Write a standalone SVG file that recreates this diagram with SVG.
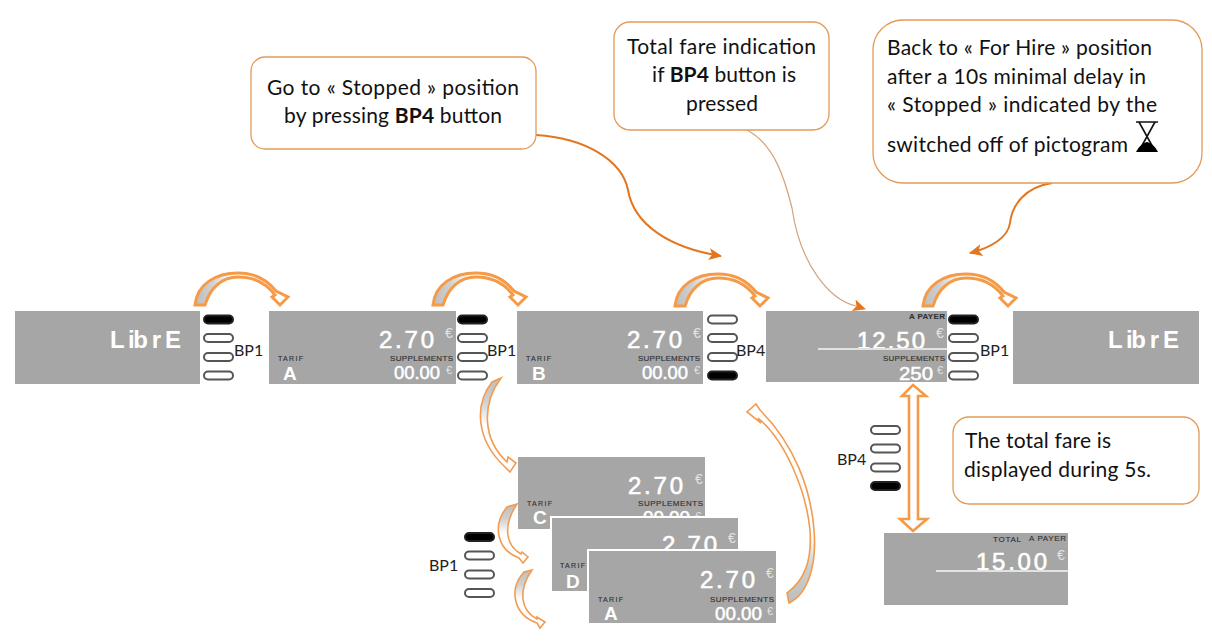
<svg xmlns="http://www.w3.org/2000/svg" xmlns:xlink="http://www.w3.org/1999/xlink" width="1212" height="644" viewBox="0 0 1212 644">
<style>
text{font-family:"Liberation Sans",Arial,sans-serif}
.disp{fill:#a6a6a6}
.discard{fill:#a6a6a6;stroke:#fff;stroke-width:2}
.big{fill:#fff;stroke:#fff;stroke-width:.6;font-size:24px}
.lib{fill:#fff;font-size:24px;font-weight:bold}
.eur{fill:#e4e4e4;font-size:14px}
.eurs{fill:#e4e4e4;font-size:11px}
.sup{fill:#333;stroke:#333;stroke-width:.15;font-size:8px}
.num{fill:#fff;stroke:#fff;stroke-width:.5;font-size:18px}
.let{fill:#fff;font-size:19px;font-weight:bold}
.rule{stroke:#e2e2e2;stroke-width:2;fill:none}
.lab{font-family:Lato,"Liberation Sans",sans-serif;font-size:16px;fill:#222}
.call{fill:#fff;stroke:#e39a58;stroke-width:1.3}
.ct{font-family:Lato,"Liberation Sans",sans-serif;font-size:21px;fill:#111}
.off{fill:#fff;stroke:#555;stroke-width:2}
.on{fill:#000;stroke:#222;stroke-width:2}
.blk{stroke:#f59a47;stroke-width:3;stroke-linejoin:miter}
.blkt{stroke:#f29c52;stroke-width:1.6;stroke-linejoin:miter}
.c1{fill:none;stroke:#e3761f;stroke-width:2}
.c2{fill:none;stroke:#d2a27c;stroke-width:1.2}
</style>
<defs>
<linearGradient id="gx" x1="0" y1="0" x2="1" y2="0"><stop offset="0" stop-color="#bdbdbd"/><stop offset=".18" stop-color="#d0d0d0"/><stop offset=".4" stop-color="#fff"/></linearGradient>
<linearGradient id="gy" x1="0" y1="0" x2="0" y2="1"><stop offset="0" stop-color="#bdbdbd"/><stop offset=".25" stop-color="#d0d0d0"/><stop offset=".5" stop-color="#fff"/></linearGradient>
<linearGradient id="gb" x1="0" y1="1" x2="0" y2="0"><stop offset="0" stop-color="#bdbdbd"/><stop offset=".18" stop-color="#cfcfcf"/><stop offset=".35" stop-color="#fff"/></linearGradient>
<marker id="hd" markerUnits="userSpaceOnUse" markerWidth="18" markerHeight="14" refX="12" refY="6" orient="auto"><path d="M0,0 L13,6 L0,12 L3,6 Z" fill="#e3761f"/></marker>
<path id="arc" d="M195,305 C197,284 216,273 238,273 C256,273 268,281 276,291 L288,297 L280,305 L272,297 L275,295 C266,283 253,277 238,277 C222,277 210,288 205,305 Z" fill="url(#gx)" class="blk"/>
<g id="pills1"><rect class="on" x="0" y="-4" width="29" height="8" rx="4"/><rect class="off" x="0" y="14.500" width="29" height="8" rx="4"/><rect class="off" x="0" y="33.500" width="29" height="8" rx="4"/><rect class="off" x="0" y="52" width="29" height="8" rx="4"/></g>
<g id="pills4"><rect class="off" x="0" y="-4" width="29" height="8" rx="4"/><rect class="off" x="0" y="14.500" width="29" height="8" rx="4"/><rect class="off" x="0" y="33.500" width="29" height="8" rx="4"/><rect class="on" x="0" y="52" width="29" height="8" rx="4"/></g>
</defs>

<g id="connectors">
<use xlink:href="#arc" href="#arc"/>
<use xlink:href="#arc" href="#arc" x="238"/>
<use xlink:href="#arc" href="#arc" x="480" y="1"/>
<use xlink:href="#arc" href="#arc" x="728" y="1"/>
<path class="blkt" fill="url(#gy)" d="M501,378 L492,382 C474,405 476,440 505,467 L510,472 L516,463 L508,457 L507,462 C483,440 481,405 501,378 Z"/>
<path class="blkt" fill="url(#gy)" d="M517,504 L507,507 C492,525 497,550 519,558 L523,563 L528,557 L522,552 L521,554 C505,545 503,525 517,504 Z"/>
<path class="blkt" fill="url(#gy)" d="M532,570 L524,572 C508,590 514,615 537,623 L540,628 L545,622 L537,617 L537,619 C520,610 518,590 532,570 Z"/>
<path class="blkt" fill="url(#gb)" d="M789,603 C808,594 817,565 814,530 C811,490 795,445 760,410 L756,404 L747,412 L761,423 L758,418 C785,440 806,490 810,530 C812,560 805,580 787,593 Z"/>
<path class="blk" style="stroke-width:2.6" fill="#fff" d="M913,385 L926,396 L918,396 L918,519 L927,519 L913,531 L900,519 L909,519 L909,396 L902,396 Z"/>
<path class="c1" marker-end="url(#hd)" d="M536,135 C585,138 622,160 628,190 C634,225 670,248 721,256"/>
<path class="c2" d="M747,130 C775,145 785,180 792,208 C800,265 830,300 856,306"/>
<path marker-end="url(#hd)" d="M856,306 L865,309" fill="none"/>
<path class="c1" marker-end="url(#hd)" d="M1052,183 C1025,187 1012,205 1010,223 C1008,238 990,248 970,253"/>
</g>

<g id="display-libre-1"><rect class="disp" x="15" y="311" width="185" height="73"/><text class="lib" x="110" y="348" textLength="71">L ib r E</text></g>
<g id="buttons-1"><use xlink:href="#pills1" href="#pills1" x="204" y="319.500"/><text class="lab" x="234" y="356">BP1</text></g>

<g id="display-tarif-a"><rect class="disp" x="269" y="311" width="187" height="73"/>
<text class="big" x="379" y="348" textLength="55">2.70</text><text class="eur" x="445" y="338">€</text>
<text class="sup" x="390" y="361" textLength="63">SUPPLEMENTS</text><text class="num" x="394" y="379" textLength="46" lengthAdjust="spacingAndGlyphs">00.00</text><text class="eurs" x="446" y="374">€</text>
<text class="sup" x="278" y="361" textLength="25" style="font-size:7px">TARIF</text><text class="let" x="283" y="380">A</text></g>
<g id="buttons-2"><use xlink:href="#pills1" href="#pills1" x="458" y="319.500"/><text class="lab" x="487" y="356">BP1</text></g>

<g id="display-tarif-b"><rect class="disp" x="517" y="311" width="186" height="73"/>
<text class="big" x="627" y="348" textLength="55">2.70</text><text class="eur" x="693" y="338">€</text>
<text class="sup" x="638" y="361" textLength="62">SUPPLEMENTS</text><text class="num" x="642" y="379" textLength="46" lengthAdjust="spacingAndGlyphs">00.00</text><text class="eurs" x="694" y="374">€</text>
<text class="sup" x="526" y="361" textLength="25" style="font-size:7px">TARIF</text><text class="let" x="532" y="380">B</text></g>
<g id="buttons-3"><use xlink:href="#pills4" href="#pills4" x="708" y="319.500"/><text class="lab" x="736" y="356">BP4</text></g>

<g id="display-payer"><rect class="disp" x="766" y="311" width="181" height="71"/>
<text class="sup" x="909" y="319" textLength="36" style="font-weight:bold">A PAYER</text>
<text class="big" x="857" y="349" textLength="68">12.50</text><text class="eur" x="936" y="338">€</text>
<line class="rule" x1="818" y1="349" x2="947" y2="349"/>
<text class="sup" x="883" y="361" textLength="62">SUPPLEMENTS</text><text class="num" x="899" y="380" textLength="34" lengthAdjust="spacingAndGlyphs">250</text><text class="eurs" x="937" y="374">€</text></g>
<g id="buttons-4"><use xlink:href="#pills1" href="#pills1" x="949" y="319.500"/><text class="lab" x="980" y="356">BP1</text></g>

<g id="display-libre-2"><rect class="disp" x="1013" y="311" width="186" height="73"/><text class="lib" x="1108" y="348" textLength="71">L ib r E</text></g>

<g id="display-tarif-c"><rect class="disp" x="518" y="457" width="187" height="72"/>
<text class="big" x="628" y="494" textLength="55">2.70</text><text class="eur" x="695" y="484">€</text>
<text class="sup" x="638" y="506" textLength="65">SUPPLEMENTS</text><text class="num" x="643" y="524" textLength="47" lengthAdjust="spacingAndGlyphs">00.00</text><text class="eurs" x="695" y="520">€</text>
<text class="sup" x="527" y="506" textLength="25" style="font-size:7px">TARIF</text><text class="let" x="533" y="524">C</text></g>
<g id="display-tarif-d"><rect class="discard" x="551" y="517" width="188" height="75"/>
<text class="big" x="662" y="553" textLength="55">2.70</text><text class="eur" x="728" y="543">€</text>
<text class="sup" x="560" y="568" textLength="25" style="font-size:7px">TARIF</text><text class="let" x="566" y="588">D</text></g>
<g id="display-tarif-a2"><rect class="discard" x="588" y="550" width="189" height="74"/>
<text class="big" x="700" y="588" textLength="55">2.70</text><text class="eur" x="766" y="578">€</text>
<text class="sup" x="710" y="602" textLength="64">SUPPLEMENTS</text><text class="num" x="715" y="620" textLength="47" lengthAdjust="spacingAndGlyphs">00.00</text><text class="eurs" x="767" y="615">€</text>
<text class="sup" x="598" y="602" textLength="25" style="font-size:7px">TARIF</text><text class="let" x="604" y="620">A</text></g>
<g id="buttons-5"><use xlink:href="#pills1" href="#pills1" x="465" y="537"/><text class="lab" x="429" y="571">BP1</text></g>

<g id="buttons-6"><use xlink:href="#pills4" href="#pills4" x="871" y="430"/><text class="lab" x="837" y="465">BP4</text></g>
<g id="display-total"><rect class="disp" x="884" y="533" width="184" height="72"/>
<text class="sup" x="993" y="542" textLength="28">TOTAL</text><text class="sup" x="1029" y="541" textLength="37">A PAYER</text>
<text class="big" x="976" y="570" textLength="71">15.00</text><text class="eur" x="1057" y="560">€</text>
<line class="rule" x1="936" y1="571" x2="1068" y2="571"/></g>

<g id="callout-stopped"><rect class="call" x="251" y="57" width="285" height="92" rx="14"/>
<text class="ct" x="267" y="95" textLength="252">Go to « Stopped » position</text>
<text class="ct" x="284" y="123" textLength="218">by pressing <tspan font-weight="bold">BP4</tspan> button</text></g>
<g id="callout-fare"><rect class="call" x="614" y="22" width="215" height="108" rx="16"/>
<text class="ct" x="627" y="54" textLength="189">Total fare indication</text>
<text class="ct" x="652" y="82" textLength="144">if <tspan font-weight="bold">BP4</tspan> button is</text>
<text class="ct" x="686" y="111" textLength="72">pressed</text></g>
<g id="callout-back"><rect class="call" x="873" y="20" width="329" height="163" rx="30"/>
<text class="ct" x="887" y="55" textLength="265">Back to « For Hire » position</text>
<text class="ct" x="887" y="84" textLength="259">after a 10s minimal delay in</text>
<text class="ct" x="887" y="112" textLength="270">« Stopped » indicated by the</text>
<text class="ct" x="887" y="152" textLength="241">switched off of pictogram</text>
<path d="M1136,122 H1158 M1139,122 L1155,151 M1155,122 L1139,151" fill="none" stroke="#111" stroke-width="1.6"/>
<path d="M1136,152 H1158 C1155,146 1151,143 1147,142 C1143,143 1139,146 1136,152 Z" fill="#000"/></g>
<g id="callout-total"><rect class="call" x="953" y="417" width="246" height="87" rx="16"/>
<text class="ct" x="965" y="448" textLength="146">The total fare is</text>
<text class="ct" x="964" y="477" textLength="187">displayed during 5s.</text></g>
</svg>
